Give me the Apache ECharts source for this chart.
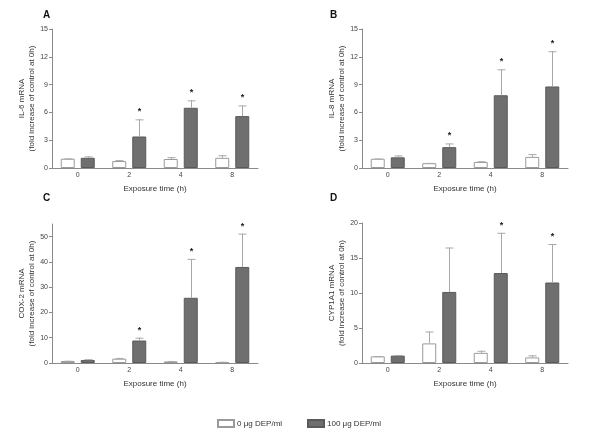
<!DOCTYPE html>
<html><head><meta charset="utf-8">
<script src="https://cdn.jsdelivr.net/npm/echarts@6/dist/echarts.min.js"></script>
<style>html,body{margin:0;padding:0;background:#fff}#c{width:600px;height:437px}</style>
</head><body><div id="c"></div>
<script>
const categories = ['0', '2', '4', '8'];
const seriesNames = ['0 μg DEP/ml', '100 μg DEP/ml'];

const aCtrl = [1.0, 0.75, 0.97, 1.1];
const aCtrlSd = [0.03, 0.1, 0.2, 0.28];
const aDep = [1.1, 3.4, 6.5, 5.6];
const aDepSd = [0.15, 1.85, 0.8, 1.15];
const aStar = [0, 1, 1, 1];

const bCtrl = [1.0, 0.52, 0.65, 1.2];
const bCtrlSd = [0.02, 0.03, 0.08, 0.3];
const bDep = [1.15, 2.25, 7.85, 8.8];
const bDepSd = [0.2, 0.4, 2.8, 3.8];
const bStar = [0, 1, 1, 1];

const cCtrl = [0.8, 1.7, 0.6, 0.4];
const cCtrlSd = [0.1, 0.3, 0.2, 0.1];
const cDep = [1.2, 8.9, 25.8, 38.0];
const cDepSd = [0.3, 1.1, 15.4, 13.2];
const cStar = [0, 1, 1, 1];

const dCtrl = [0.95, 2.8, 1.45, 0.8];
const dCtrlSd = [0.03, 1.7, 0.3, 0.3];
const dDep = [1.05, 10.15, 12.85, 11.5];
const dDepSd = [0.1, 6.35, 5.75, 5.5];
const dStar = [0, 0, 1, 1];

const yTitles = ['IL-6 mRNA', 'IL-8 mRNA', 'COX-2 mRNA', 'CYP1A1 mRNA'];
const ySub = '(fold increase of control at 0h)';
const yMax = [15, 15, 55, 20];
const yInterval = [3, 3, 10, 5];
const panelLetters = ['A', 'B', 'C', 'D'];

const panels = [
  {ctrl: aCtrl, ctrlSd: aCtrlSd, dep: aDep, depSd: aDepSd, star: aStar},
  {ctrl: bCtrl, ctrlSd: bCtrlSd, dep: bDep, depSd: bDepSd, star: bStar},
  {ctrl: cCtrl, ctrlSd: cCtrlSd, dep: cDep, depSd: cDepSd, star: cStar},
  {ctrl: dCtrl, ctrlSd: dCtrlSd, dep: dDep, depSd: dDepSd, star: dStar}
];

const gridPos = [
  {left: 52, top: 29, width: 206, height: 139},
  {left: 362, top: 29, width: 206, height: 139},
  {left: 52, top: 224, width: 206, height: 139},
  {left: 362, top: 223, width: 206, height: 140}
];
const letterPos = [[43, 10], [330, 10], [43, 193], [330, 193]];

const FONT = 'Liberation Sans, Arial, sans-serif';
const AXIS = '#8a8a8a';
const ERR = '#a8a8a8';
const BAR_W = 14;
const OFF = 10;

function errRender(offset) {
  return function (params, api) {
    const i = api.value(0);
    const m = api.value(1);
    const sd = api.value(2);
    const star = api.value(3);
    const base = api.coord([i, m]);
    const top = api.coord([i, m + sd]);
    const x = Math.round(base[0] + offset) + 0.5;
    const children = [];
    if (sd > 0) {
      children.push({type: 'line', shape: {x1: x, y1: base[1], x2: x, y2: top[1]}, style: {stroke: ERR, lineWidth: 1}});
      children.push({type: 'line', shape: {x1: x - 4, y1: top[1] + 0.5, x2: x + 4, y2: top[1] + 0.5}, style: {stroke: ERR, lineWidth: 1}});
    }
    if (star) {
      children.push({type: 'text', style: {text: '*', x: x, y: top[1] - 3, align: 'center', verticalAlign: 'bottom', font: 'bold 9px ' + FONT, fill: '#222'}});
    }
    return {type: 'group', children: children};
  };
}

const grid = [], xAxis = [], yAxis = [], series = [], graphic = [];
panels.forEach((p, k) => {
  grid.push(Object.assign({containLabel: false}, gridPos[k]));
  xAxis.push({
    type: 'category', gridIndex: k, data: categories,
    name: 'Exposure time (h)', nameLocation: 'middle', nameGap: 17,
    nameTextStyle: {fontSize: 8, fontFamily: FONT, color: '#333'},
    axisLine: {lineStyle: {color: AXIS}},
    axisTick: {alignWithLabel: true, length: 3, lineStyle: {color: AXIS}},
    axisLabel: {fontSize: 7, fontFamily: FONT, color: '#444', margin: 4}
  });
  yAxis.push({
    type: 'value', gridIndex: k, min: 0, max: yMax[k], interval: yInterval[k],
    name: yTitles[k] + '\n' + ySub, nameLocation: 'middle', nameGap: 15, nameRotate: 90,
    nameTextStyle: {fontSize: 8, fontFamily: FONT, color: '#333', lineHeight: 10},
    axisLine: {show: true, lineStyle: {color: AXIS}},
    axisTick: {show: true, length: 3, lineStyle: {color: AXIS}},
    splitLine: {show: false},
    axisLabel: {fontSize: 7, fontFamily: FONT, color: '#444', margin: 4, showMaxLabel: yMax[k] % yInterval[k] === 0}
  });
  series.push({
    name: seriesNames[0], type: 'bar', xAxisIndex: k, yAxisIndex: k, data: p.ctrl,
    barWidth: BAR_W, barGap: '43%',
    itemStyle: {color: '#ffffff', borderColor: '#9a9a9a', borderWidth: 1}
  });
  series.push({
    name: seriesNames[1], type: 'bar', xAxisIndex: k, yAxisIndex: k, data: p.dep,
    barWidth: BAR_W, barGap: '43%',
    itemStyle: {color: '#6f6f6f', borderColor: '#5a5a5a', borderWidth: 1}
  });
  series.push({
    type: 'custom', xAxisIndex: k, yAxisIndex: k, z: 5,
    renderItem: errRender(-OFF), encode: {x: 0, y: 1},
    data: p.ctrl.map((v, i) => [i, v, p.ctrlSd[i], 0])
  });
  series.push({
    type: 'custom', xAxisIndex: k, yAxisIndex: k, z: 5,
    renderItem: errRender(OFF), encode: {x: 0, y: 1},
    data: p.dep.map((v, i) => [i, v, p.depSd[i], p.star[i]])
  });
  graphic.push({type: 'text', left: letterPos[k][0], top: letterPos[k][1],
    style: {text: panelLetters[k], font: 'bold 10px ' + FONT, fill: '#111'}});
});

const chart = echarts.init(document.getElementById('c'), null, {renderer: 'canvas'});
chart.setOption({
  animation: false,
  backgroundColor: '#ffffff',
  grid: grid, xAxis: xAxis, yAxis: yAxis, series: series, graphic: graphic,
  legend: [
    {data: [{name: seriesNames[0], icon: 'rect'}], left: 212, top: 414, itemWidth: 16, itemHeight: 7, itemGap: 4,
     textStyle: {fontSize: 8, fontFamily: FONT, color: '#333', padding: [0, 0, 0, -2]}},
    {data: [{name: seriesNames[1], icon: 'rect'}], left: 302, top: 414, itemWidth: 16, itemHeight: 7, itemGap: 4,
     textStyle: {fontSize: 8, fontFamily: FONT, color: '#333', padding: [0, 0, 0, -2]}}
  ]
});
</script></body></html>
